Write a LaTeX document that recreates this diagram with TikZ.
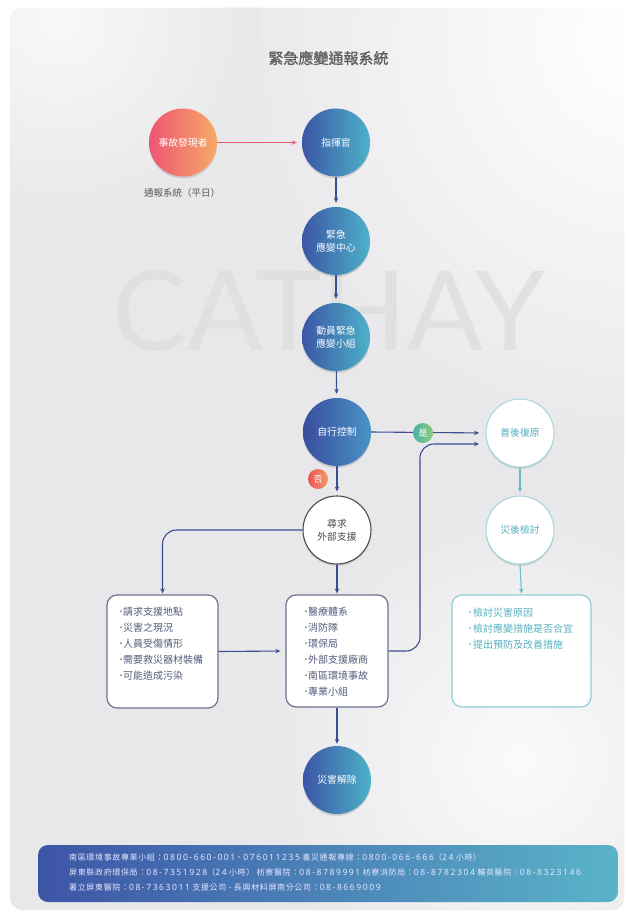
\documentclass[tikz,border=0pt]{standalone}
\usepackage{fontspec}
\usepackage{graphicx}
\usetikzlibrary{arrows.meta,shadows,shadings,calc}
\newfontfamily\cjk{Noto Sans CJK TC}
\newfontfamily\cjkbold[FakeBold=1.5]{Noto Sans CJK TC}
\newfontfamily\cjkfoot[LetterSpace=8]{Noto Sans CJK TC}
\newfontfamily\numfont[LetterSpace=18]{Noto Sans}
\newfontfamily\wmfont{Lato}
\newcommand\fnum[1]{{\numfont\fontsize{8.6}{9}\selectfont #1}}
\definecolor{bgA}{HTML}{E8E8EA}
\definecolor{blueL}{HTML}{3C55A5}
\definecolor{blueR}{HTML}{4DB2C9}
\definecolor{selfL}{HTML}{394D9E}
\definecolor{selfR}{HTML}{4A93C6}
\definecolor{oraL}{HTML}{EE5572}
\definecolor{oraR}{HTML}{F6AA68}
\definecolor{yesL}{HTML}{46B3A6}
\definecolor{yesR}{HTML}{8ECB7C}
\definecolor{noL}{HTML}{EC5358}
\definecolor{noR}{HTML}{F29A62}
\definecolor{lineB}{HTML}{3F4C8E}
\definecolor{lineR}{HTML}{E65C74}
\definecolor{lineT}{HTML}{6DBCCB}
\definecolor{boxB}{HTML}{6E7390}
\definecolor{boxT}{HTML}{92CDD5}
\definecolor{txtB}{HTML}{555B7C}
\definecolor{txtT}{HTML}{55AFC1}
\definecolor{footL}{HTML}{3D55A6}
\definecolor{footR}{HTML}{5AB3C9}
\begin{document}
\begin{tikzpicture}[x=1pt,y=-1pt,
  circshadow/.style={drop shadow={shadow xshift=0pt, shadow yshift=-2pt, opacity=0.12, fill=black}},
  bcirc/.style={circle, minimum size=68pt, inner sep=0pt, left color=blueL, right color=blueR,
     text=white, font=\cjk\fontsize{9.8}{13}\selectfont, align=center, circshadow},
  scirc/.style={bcirc, left color=selfL, right color=selfR},
  ocirc/.style={bcirc, left color=oraL, right color=oraR},
  wcirc/.style={circle, minimum size=68pt, inner sep=0pt, fill=white, draw=#1, line width=1.1pt,
     font=\cjk\fontsize{9.8}{13}\selectfont, align=center, circshadow},
  smallcirc/.style={circle, minimum size=20pt, inner sep=0pt, text=white, font=\cjk\fontsize{9}{9}\selectfont},
  listbox/.style={draw=#1, fill=white, line width=1.2pt, rounded corners=10pt, inner sep=0pt},
  listtxt/.style={inner sep=0pt, anchor=base west, text=#1, font=\cjk\fontsize{10}{12}\selectfont},
  flowB/.style={draw=lineB, line width=1.1pt, -{Stealth[length=5pt,width=4.5pt]}, shorten >=4pt},
  flowR/.style={draw=lineR, line width=1.1pt, -{Stealth[length=5pt,width=4.5pt]}, shorten >=5pt},
  flowT/.style={draw=lineT, line width=1.1pt, -{Stealth[length=5pt,width=4.5pt]}, shorten >=3pt},
  foottxt/.style={inner sep=0pt, anchor=base west, text=white!90!blue, font=\cjkfoot\fontsize{8}{9}\selectfont}
]
\useasboundingbox (0,0) rectangle (633,917);
% background
\fill[white] (0,0) rectangle (633,917);
\begin{scope}
\clip[rounded corners=12pt] (10,8) rectangle (624,910);
\fill[bgA] (0,0) rectangle (633,917);
\shade[inner color=white, outer color=bgA] (640,40) circle (420);
\shade[inner color=white!80!bgA, outer color=bgA] (520,760) circle (260);
\shade[inner color=white!70!bgA, outer color=bgA] (60,20) circle (200);
\end{scope}
% watermark
\node[inner sep=0pt, anchor=south west, text=black!13, opacity=0.8] (wm) at (112,352)
  {\resizebox{433pt}{80pt}{\wmfont CATHAY}};
% title
\node[text=black!62, font=\cjkbold\fontsize{15}{15}\selectfont] (title) at (328.5,58) {緊急應變通報系統};
% circles
\node[ocirc] (finder) at (183,142.5) {事故發現者};
\node[text=black!65, font=\cjk\fontsize{9.5}{10}\selectfont] (finderlbl) at (182,193) {通報系統（平日）};
\node[bcirc] (cmd) at (336,142.5) {指揮官};
\node[bcirc] (center) at (336,241) {緊急\\應變中心};
\node[bcirc] (team) at (336,337) {動員緊急\\應變小組};
\node[scirc] (self) at (337,432) {自行控制};
\node[wcirc=black!70, text=black!70] (ext) at (337,530) {尋求\\外部支援};
\node[wcirc=boxT!80, text=txtT] (recov) at (520,433) {善後復原};
\node[wcirc=boxT!80, text=txtT] (review) at (520,530) {災後檢討};
\node[bcirc] (clear) at (337,780) {災害解除};
% boxes
\node[listbox=boxB, minimum width=111pt, minimum height=113pt] (leftbox) at (162.5,651.5) {};
\node[listbox=boxB, minimum width=102pt, minimum height=112pt] (midbox) at (337,651) {};
\node[listbox=boxT, minimum width=139pt, minimum height=112pt] (rightbox) at (521.5,651) {};
\foreach \t [count=\i] in {請求支援地點,災害之現況,人員受傷情形,需要救災器材裝備,可能造成污染}
  \node[listtxt=txtB] (la\i) at (116,{615.8+16*(\i-1)}) {\makebox[7pt][l]{\textcolor{black!40}{•}}\t};
\foreach \t [count=\i] in {醫療體系,消防隊,環保局,外部支援廠商,南區環境事故,專業小組}
  \node[listtxt=txtB] (lb\i) at (301,{615.8+15.9*(\i-1)}) {\makebox[7pt][l]{\textcolor{black!40}{•}}\t};
\foreach \t [count=\i] in {檢討災害原因,檢討應變措施是否合宜,提出預防及改善措施}
  \node[listtxt=txtT] (lc\i) at (465,{616.5+15.8*(\i-1)}) {\makebox[8pt][l]{\textcolor{txtT!70}{•}}\t};
% connectors
\draw[flowR] (finder) -- (cmd);
\draw[flowB] (cmd) -- (center);
\draw[flowB] (center) -- (team);
\draw[flowB] (team) -- (self);
\draw[flowB] (self) -- (ext);
\node[smallcirc, left color=noL, right color=noR] (no) at (318,479) {否};
\coordinate (yesin) at (487,433);
\draw[flowB, shorten >=8pt] (self.east) -- (yesin);
\node[smallcirc, left color=yesL, right color=yesR] (yes) at (423,433) {是};
\draw[flowB, shorten >=1pt, rounded corners=14pt] (ext.west) -| (leftbox.north);
\draw[flowB, shorten >=1pt] (ext.south) -- (midbox.north);
\draw[flowB, shorten >=5pt] (leftbox.east) -- (midbox.west);
\coordinate (rturn) at (420,444);
\coordinate (rin) at (487,444);
\draw[flowB, shorten >=8pt, rounded corners=14pt] (midbox.east) -| (rturn) -- (rin);
\draw[flowB, shorten >=2pt] (midbox.south) -- (clear.north);
\draw[flowT] (recov) -- (review);
\draw[flowT, shorten >=1pt] (review.south) -- (rightbox.north);
% footer
\node[rounded corners=10pt, minimum width=580pt, minimum height=57pt, left color=footL, right color=footR, inner sep=0pt] (footer) at (328,873.5) {};
\node[foottxt] (f1) at (69,860) {南區環境事故專業小組：\fnum{0800-660-001}、\fnum{076011235} 毒災通報專線：\fnum{0800-066-666}（\fnum{24} 小時）};
\node[foottxt] (f2) at (69,875) {屏東縣政府環保局：\fnum{08-7351928}（\fnum{24} 小時） 枋寮醫院：\fnum{08-8789991} 枋寮消防局：\fnum{08-8782304} 輔英醫院：\fnum{08-8323146}};
\node[foottxt] (f3) at (69,890) {署立屏東醫院：\fnum{08-7363011} 支援公司 - 長興材料屏南分公司：\fnum{08-8669009}};
\end{tikzpicture}
\end{document}
